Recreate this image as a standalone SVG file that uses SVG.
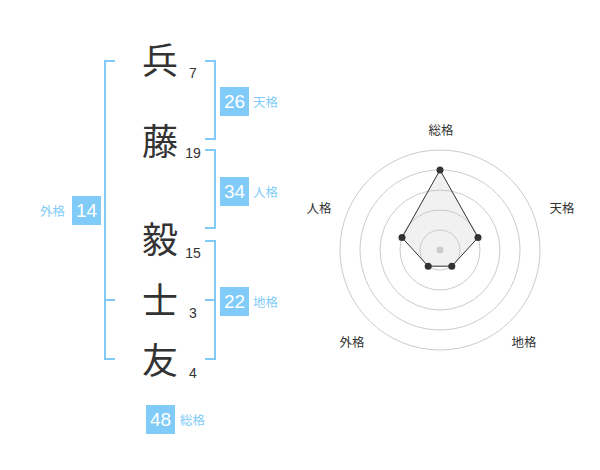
<svg xmlns="http://www.w3.org/2000/svg" width="600" height="470" viewBox="0 0 600 470">
<style>
.k{font-family:"Noto Sans CJK JP","Noto Sans CJK SC",sans-serif;font-size:36px;fill:#333;text-anchor:middle}
.n{font-family:"Liberation Sans",Arial,sans-serif;font-size:14px;fill:#333;text-anchor:middle}
.bx{fill:#80cbf8}
.bt{font-family:"Liberation Sans",Arial,sans-serif;font-size:19px;fill:#fff;text-anchor:middle}
.bl{font-family:"Noto Sans CJK JP","Noto Sans CJK SC",sans-serif;font-size:12.5px;fill:#80cbf8}
.br{fill:none;stroke:#80cbf8;stroke-width:2}
.ring{fill:none;stroke:#ccc;stroke-width:1}
.rl{font-family:"Noto Sans CJK JP","Noto Sans CJK SC",sans-serif;font-size:12.5px;fill:#333;text-anchor:middle}
</style>
<rect width="600" height="470" fill="#fff"/>
<g id="chars">
<g id="c1"><text class="k" x="160" y="74">兵</text><text class="n" x="193" y="78">7</text></g>
<g id="c2"><text class="k" x="160" y="155">藤</text><text class="n" x="193" y="158">19</text></g>
<g id="c3"><text class="k" x="160" y="253">毅</text><text class="n" x="193" y="258">15</text></g>
<g id="c4"><text class="k" x="160" y="314">士</text><text class="n" x="193" y="318">3</text></g>
<g id="c5"><text class="k" x="160" y="374">友</text><text class="n" x="193" y="378">4</text></g>
</g>
<g id="connectors">
<path class="br" d="M115,61 H105 V359 H115 M105,300 H115"/>
<path class="br" d="M205,61 H215 V139 H205"/>
<path class="br" d="M205,150 H215 V228 H205"/>
<path class="br" d="M205,241 H215 V359 H205 M205,300 H215"/>
</g>
<g id="tenkaku"><rect class="bx" x="220" y="87" width="29" height="29"/><text class="bt" x="234.5" y="108">26</text><text class="bl" x="253" y="107">天格</text></g>
<g id="jinkaku"><rect class="bx" x="220" y="177" width="29" height="29"/><text class="bt" x="234.5" y="198">34</text><text class="bl" x="253" y="197">人格</text></g>
<g id="chikaku"><rect class="bx" x="220" y="287" width="29" height="29"/><text class="bt" x="234.5" y="308">22</text><text class="bl" x="253" y="307">地格</text></g>
<g id="gaikaku"><rect class="bx" x="72" y="196" width="29" height="29"/><text class="bt" x="86.5" y="217">14</text><text class="bl" x="40" y="216">外格</text></g>
<g id="soukaku"><rect class="bx" x="146" y="405" width="29" height="29"/><text class="bt" x="160.5" y="426">48</text><text class="bl" x="180" y="425">総格</text></g>
<g id="radar">
<circle class="ring" cx="440" cy="250" r="20"/>
<circle class="ring" cx="440" cy="250" r="40"/>
<circle class="ring" cx="440" cy="250" r="60"/>
<circle class="ring" cx="440" cy="250" r="80"/>
<circle class="ring" cx="440" cy="250" r="100"/>
<polygon points="440,170 478,237.6 451.8,266.2 428.2,266.2 402,237.6" fill="rgba(200,200,200,0.25)" stroke="#333" stroke-width="1"/>
<circle cx="440" cy="250" r="3.5" fill="#ccc"/>
<g fill="#333">
<circle cx="440" cy="170" r="3.5"/>
<circle cx="478" cy="237.6" r="3.5"/>
<circle cx="451.8" cy="266.2" r="3.5"/>
<circle cx="428.2" cy="266.2" r="3.5"/>
<circle cx="402" cy="237.6" r="3.5"/>
</g>
<text class="rl" x="441" y="135">総格</text>
<text class="rl" x="562" y="213">天格</text>
<text class="rl" x="319" y="213">人格</text>
<text class="rl" x="352" y="347">外格</text>
<text class="rl" x="524" y="347">地格</text>
</g>
</svg>
